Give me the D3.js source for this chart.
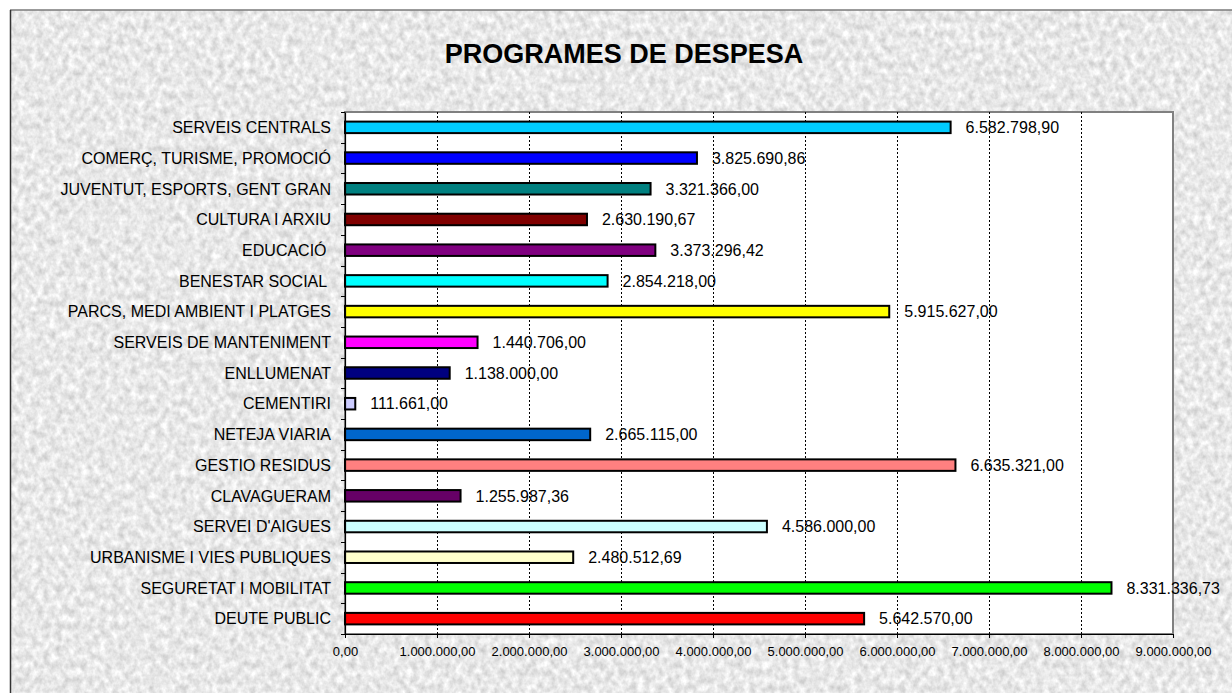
<!DOCTYPE html>
<html><head><meta charset="utf-8">
<script src="https://cdn.jsdelivr.net/npm/d3@7"></script>
<style>
html,body{margin:0;padding:0;background:#fff;}
svg{display:block;font-family:"Liberation Sans",Arial,sans-serif;}
</style></head>
<body>
<svg id="chart" width="1232" height="693"></svg>
<script>
const title = "PROGRAMES DE DESPESA";
const categories = [
  "SERVEIS CENTRALS",
  "COMERÇ, TURISME, PROMOCIÓ",
  "JUVENTUT, ESPORTS, GENT GRAN",
  "CULTURA I ARXIU",
  "EDUCACIÓ ",
  "BENESTAR SOCIAL ",
  "PARCS, MEDI AMBIENT I PLATGES",
  "SERVEIS DE MANTENIMENT",
  "ENLLUMENAT",
  "CEMENTIRI",
  "NETEJA VIARIA",
  "GESTIO RESIDUS",
  "CLAVAGUERAM",
  "SERVEI D'AIGUES",
  "URBANISME I VIES PUBLIQUES",
  "SEGURETAT I MOBILITAT",
  "DEUTE PUBLIC"
];
const values = [
  6582798.90, 3825690.86, 3321366.00, 2630190.67, 3373296.42, 2854218.00,
  5915627.00, 1440706.00, 1138000.00, 111661.00, 2665115.00, 6635321.00,
  1255987.36, 4586000.00, 2480512.69, 8331336.73, 5642570.00
];
const barColors = [
  "#00CCFF", "#0000FF", "#008080", "#800000", "#800080", "#00FFFF",
  "#FFFF00", "#FF00FF", "#000080", "#CCCCFF", "#0066CC", "#FF8080",
  "#660066", "#CCFFFF", "#FFFFCC", "#00FF00", "#FF0000"
];
const xTickValues = [0, 1000000, 2000000, 3000000, 4000000, 5000000, 6000000, 7000000, 8000000, 9000000];

const locale = d3.formatLocale({decimal: ",", thousands: ".", grouping: [3], currency: ["", ""]});
const fmt = locale.format(",.2f");

const svg = d3.select("#chart");
const plot = {left: 345, right: 1173, top: 112, bottom: 634};

// textured background
const defs = svg.append("defs");
const f = defs.append("filter").attr("id", "tex")
  .attr("x", 0).attr("y", 0).attr("width", "100%").attr("height", "100%")
  .attr("color-interpolation-filters", "sRGB");
f.append("feTurbulence").attr("type", "fractalNoise")
  .attr("baseFrequency", "0.16 0.13").attr("numOctaves", 3).attr("seed", 7).attr("result", "n");
f.append("feColorMatrix").attr("type", "matrix")
  .attr("values", "0.30 0 0 0 0.76  0.30 0 0 0 0.76  0.30 0 0 0 0.76  0 0 0 0 1");

svg.append("rect").attr("width", 1232).attr("height", 693).attr("fill", "#fff");
svg.append("rect").attr("x", 10).attr("y", 10).attr("width", 1240).attr("height", 700)
  .attr("fill", "#e8e8e8").attr("filter", "url(#tex)");
svg.append("line").attr("x1", 10).attr("x2", 1232).attr("y1", 10).attr("y2", 10)
  .attr("stroke", "#7a7a7a").attr("stroke-width", 1.5);
svg.append("line").attr("x1", 10.5).attr("x2", 10.5).attr("y1", 10).attr("y2", 693)
  .attr("stroke", "#333").attr("stroke-width", 1.5);

// title
svg.append("text").attr("x", 624).attr("y", 62.5).attr("text-anchor", "middle")
  .attr("font-size", 27).attr("font-weight", "bold").attr("fill", "#000").text(title);

const x = d3.scaleLinear().domain([0, 9000000]).range([plot.left, plot.right]);
const y = d3.scaleBand().domain(categories).range([plot.top, plot.bottom]).padding(0);

// plot area
svg.append("rect").attr("x", plot.left).attr("y", plot.top)
  .attr("width", plot.right - plot.left).attr("height", plot.bottom - plot.top)
  .attr("fill", "#fff").attr("stroke", "#808080").attr("stroke-width", 2);

// gridlines
svg.append("g").selectAll("line").data(xTickValues.filter(v => v > 0 && v < 9000000)).join("line")
  .attr("x1", d => Math.round(x(d)) + 0.5).attr("x2", d => Math.round(x(d)) + 0.5)
  .attr("y1", plot.top).attr("y2", plot.bottom)
  .attr("stroke", "#000").attr("stroke-width", 1).attr("stroke-dasharray", "2,2");

// bars
const barH = 11.5;
svg.append("g").selectAll("rect").data(categories).join("rect")
  .attr("x", plot.left)
  .attr("y", d => y(d) + y.bandwidth() / 2 - barH / 2)
  .attr("width", (d, i) => x(values[i]) - plot.left)
  .attr("height", barH)
  .attr("fill", (d, i) => barColors[i])
  .attr("stroke", "#000").attr("stroke-width", 2);

// value labels
svg.append("g").selectAll("text").data(categories).join("text")
  .attr("x", (d, i) => x(values[i]) + 15)
  .attr("y", d => y(d) + y.bandwidth() / 2)
  .attr("dy", "0.36em").attr("font-size", 16).attr("fill", "#000")
  .text((d, i) => fmt(values[i]));

// x axis
const xAxis = svg.append("g").attr("transform", `translate(0,${plot.bottom})`)
  .call(d3.axisBottom(x).tickValues(xTickValues).tickFormat(fmt).tickSize(4).tickSizeOuter(0).tickPadding(8.3));
xAxis.select(".domain").attr("stroke", "#000").attr("stroke-width", 1.2);
xAxis.selectAll(".tick line").attr("stroke", "#000");
xAxis.selectAll("text").attr("font-size", 13).attr("font-family", "\"Liberation Sans\",Arial,sans-serif").attr("fill", "#000");

// y axis
const yAxis = svg.append("g").attr("transform", `translate(${plot.left},0)`)
  .call(d3.axisLeft(y).tickSize(0).tickPadding(14).tickSizeOuter(0));
yAxis.select(".domain").attr("stroke", "#000").attr("stroke-width", 1.2);
yAxis.selectAll("text").attr("font-size", 16).attr("font-family", "\"Liberation Sans\",Arial,sans-serif")
  .attr("fill", "#000").attr("dy", "0.36em").style("white-space", "pre");
const bounds = categories.map(c => y(c)).concat([plot.bottom]);
svg.append("g").selectAll("line").data(bounds).join("line")
  .attr("x1", plot.left - 4).attr("x2", plot.left)
  .attr("y1", d => Math.round(d) + 0.5).attr("y2", d => Math.round(d) + 0.5)
  .attr("stroke", "#000").attr("stroke-width", 1);
</script>
</body></html>
